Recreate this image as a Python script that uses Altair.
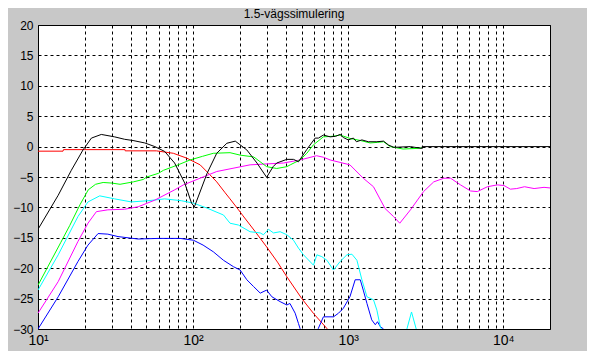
import altair as alt
import pandas as pd

# ---- data ----
black_f = [10, 13.5, 16.4, 19.5, 22.1, 25.6, 31.2, 36.2, 41, 48.8, 56.7, 65.6, 76, 88.3, 97.7, 102,
           123, 142, 165, 187, 222, 258, 298, 328, 346, 402, 444, 478, 540, 612, 643, 692, 766, 830,
           887, 930, 1000, 1080, 1130, 1225, 1350, 1530, 1690, 1820, 1960, 2060, 2520, 2980, 3000, 20000]
black_db = [-13.6, -8.0, -3.9, -0.55, 1.4, 2.0, 1.6, 1.2, 1.0, 0.6, 0.0, -0.8, -2.7, -6.0, -9.3, -9.9,
            -4.4, -1.1, 0.55, 0.9, -0.55, -2.7, -5.05, -3.3, -2.7, -2.1, -2.1, -2.5, -0.5, 1.4, 1.4, 1.9, 1.6, 1.7,
            2.0, 1.5, 1.1, 1.4, 0.8, 1.1, 0.8, 0.8, 0.9, 0.26, -0.1, -0.1, 0.0, -0.3, 0.0, 0.0]

green_f = [10, 12, 14, 16, 18.7, 21.1, 23.5, 26.3, 30, 33.8, 41.2, 47.8, 50.2, 59.7, 64.4, 80, 95.6,
           115, 135, 173, 201, 246, 298, 346, 402, 423, 489, 541, 597, 692, 801, 887, 1026, 1200, 1384,
           1550, 1690, 1866, 2258, 2777, 2980]
green_db = [-22.8, -19.0, -15.8, -13.0, -9.5, -7.1, -6.2, -5.9, -6.0, -6.2, -5.8, -5.4, -5.0, -4.4, -3.9,
            -3.0, -2.2, -1.6, -1.1, -1.0, -1.4, -1.7, -3.3, -3.6, -3.3, -3.0, -2.2, -1.1, 0.3, 1.6, 1.7, 1.9,
            1.35, 1.0, 0.6, 0.7, 0.8, 0.0, -0.4, -0.3, -0.2]

red_f = [10, 14.5, 14.6, 36.4, 36.5, 58, 74.6, 91, 111, 128, 142, 161, 173, 195, 210, 250, 298, 350,
         402, 502, 600, 728, 760]
red_db = [-0.75, -0.75, -0.5, -0.5, -0.7, -0.7, -1.1, -1.9, -3.0, -4.6, -5.8, -7.6, -8.6, -10.3, -11.4,
          -13.9, -16.5, -19.0, -21.4, -25.0, -27.5, -29.9, -31.0]

cyan_f = [10, 13.5, 18.1, 21, 25, 31.2, 40, 51.2, 65.6, 84, 100.5, 122.5, 157, 173, 196, 233, 271, 284,
          306, 330, 364, 402, 444, 478, 515, 597, 628, 676, 729, 804, 887, 981, 1057, 1138, 1225, 1321,
          1456, 1531, 1609, 1650, 1700, 2300, 2390, 2560, 2745, 2800]
cyan_db = [-23.6, -17.8, -11.5, -9.1, -8.1, -8.6, -9.1, -8.9, -8.6, -8.9, -9.3, -10.1, -11.25, -12.6,
           -12.9, -14.0, -14.2, -14.5, -13.6, -14.2, -14.0, -14.5, -15.4, -16.7, -17.8, -19.5, -17.8, -18.1,
           -18.7, -20.3, -18.9, -17.8, -17.7, -18.7, -21.9, -24.7, -25.2, -26.9, -29.6, -30.2, -33, -33,
           -30, -27.2, -30, -33]

blue_f = [10, 13.5, 18.1, 21, 24.4, 28.2, 32.8, 44.2, 59.4, 82.4, 100.5, 116, 135, 157, 182, 201, 222,
          245, 271, 298, 322, 364, 402, 421, 455, 478, 489, 500, 620, 642, 692, 804, 866, 930, 1026, 1109,
          1196, 1250, 1321, 1418, 1495, 1545, 1609, 1690, 1750]
blue_db = [-30.0, -24.7, -18.9, -16.2, -14.3, -14.4, -14.8, -15.2, -15.1, -15.1, -15.4, -16.2, -17.3,
           -18.7, -19.75, -20.3, -21.9, -23.0, -24.1, -23.6, -24.7, -25.5, -26.05, -25.8, -27.4, -29.1,
           -29.9, -31.0, -31.0, -29.9, -28.0, -28.0, -27.4, -26.6, -24.7, -21.9, -21.9, -23.6, -25.8, -28.5,
           -29.3, -28.8, -29.6, -30.0, -33.0]

mag_f = [10, 13.5, 18.1, 21, 23.8, 28.2, 36.2, 44.2, 56.7, 76.2, 86.6, 142, 233, 382, 489, 625, 692,
         766, 887, 1026, 1250, 1455, 1730, 1960, 2150, 2520, 3060, 3560, 4140, 4570, 5300, 6150, 6800,
         7900, 9150, 10100, 11100, 12200, 13700, 15800, 18300, 20000]
mag_db = [-27.4, -22.2, -15.6, -12.6, -10.7, -10.4, -10.3, -9.9, -8.8, -7.1, -6.3, -4.1, -3.0, -2.7, -2.2,
          -1.5, -1.75, -2.2, -2.6, -3.0, -5.2, -6.6, -10.2, -11.5, -12.6, -10.4, -7.4, -5.8, -5.2, -5.2,
          -6.3, -7.3, -7.4, -6.6, -6.3, -6.4, -7.0, -6.9, -6.6, -6.9, -6.7, -6.8]

series = [
    ("red", red_f, red_db, "#ff0000"),
    ("blue", blue_f, blue_db, "#0000ff"),
    ("cyan", cyan_f, cyan_db, "#00ffff"),
    ("magenta", mag_f, mag_db, "#ff00ff"),
    ("green", green_f, green_db, "#00ff00"),
    ("black", black_f, black_db, "#000000"),
]

x_grid = [10, 20, 30, 40, 50, 60, 70, 80, 90, 100, 200, 300, 400, 500, 600, 700, 800, 900,
          1000, 2000, 3000, 4000, 5000, 6000, 7000, 8000, 9000, 10000, 20000]
y_ticks = [-30, -25, -20, -15, -10, -5, 0, 5, 10, 15, 20]

rows = []
for i, (name, fs, ds, _) in enumerate(series):
    for f, d in zip(fs, ds):
        rows.append({"series": name, "order": i, "f": f, "db": d})
df = pd.DataFrame(rows)

font = "Liberation Sans"

chart = alt.Chart(df).mark_line(clip=True, strokeWidth=1).encode(
    x=alt.X("f:Q",
            scale=alt.Scale(type="log", domain=[10, 20000], nice=False),
            axis=alt.Axis(values=x_grid, title=None, grid=True, gridDash=[3, 3], gridColor="#000000",
                          gridOpacity=1, gridWidth=1, domain=False, ticks=False,
                          labelExpr="datum.value == 10 ? '10¹' : datum.value == 100 ? '10²' : datum.value == 1000 ? '10³' : datum.value == 10000 ? '10⁴' : ''",
                          labelFont=font, labelFontSize=14, labelColor="#000000", labelPadding=4,
                          labelFlush=False, labelOverlap=False)),
    y=alt.Y("db:Q",
            scale=alt.Scale(domain=[-30, 20], nice=False, zero=False),
            axis=alt.Axis(values=y_ticks, title=None, grid=True, gridDash=[3, 3], gridColor="#000000",
                          gridOpacity=1, gridWidth=1, domain=False, ticks=False,
                          labelFont=font, labelFontSize=12, labelColor="#000000", labelPadding=5,
                          labelFlush=False, labelOverlap=False)),
    color=alt.Color("series:N",
                    scale=alt.Scale(domain=[s[0] for s in series], range=[s[3] for s in series]),
                    legend=None),
    order=alt.Order("order:Q"),
    detail="series:N",
).properties(
    width=512,
    height=304,
    title=alt.TitleParams("1.5-vägssimulering", font=font, fontSize=12, fontWeight="normal",
                          color="#000000", anchor="middle", offset=-2),
    autosize=alt.AutoSizeParams(type="none"),
    padding={"left": 30, "top": 17, "right": 37, "bottom": 22},
    background="#c8c8c8",
).configure_view(
    fill="#ffffff", stroke="#000000", strokeWidth=1
)

chart.save("out.html", embed_options={"renderer": "svg", "actions": False})
